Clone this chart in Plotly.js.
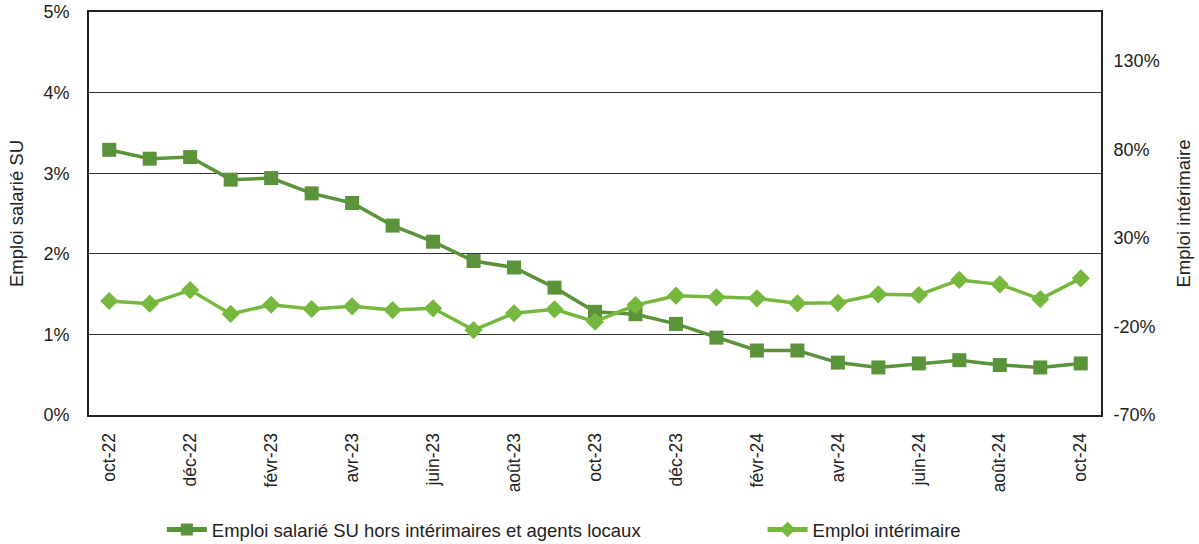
<!DOCTYPE html>
<html><head><meta charset="utf-8">
<script src="https://cdn.plot.ly/plotly-3.0.1.min.js"></script>
<style>html,body{margin:0;padding:0;background:#fff}#c{width:1199px;height:544px}</style>
</head><body><div id="c"></div>
<script>
const months = ["oct-22","nov-22","déc-22","janv-23","févr-23","mars-23","avr-23","mai-23","juin-23","juil-23","août-23","sept-23","oct-23","nov-23","déc-23","janv-24","févr-24","mars-24","avr-24","mai-24","juin-24","juil-24","août-24","sept-24","oct-24"];
const tickLabels = ["oct-22","déc-22","févr-23","avr-23","juin-23","août-23","oct-23","déc-23","févr-24","avr-24","juin-24","août-24","oct-24"];
const emploiSalarie = [3.29,3.18,3.20,2.92,2.94,2.75,2.63,2.35,2.15,1.91,1.83,1.58,1.28,1.25,1.13,0.96,0.80,0.80,0.65,0.59,0.64,0.68,0.62,0.59,0.64];
const emploiInterim = [-5.6,-7.1,0.6,-12.9,-7.7,-10.1,-8.6,-10.7,-9.7,-22.0,-12.5,-10.3,-17.3,-7.9,-2.6,-3.5,-4.1,-6.9,-6.6,-1.8,-2.2,6.3,3.8,-4.5,7.2];
const name1 = "Emploi salarié SU hors intérimaires et agents locaux";
const name2 = "Emploi intérimaire";

const dark = "#5b933b", light = "#76b83e";
const fam = "Liberation Sans, Arial, sans-serif";
const font = {family: fam, size: 18, color: "#222"};
const titleFont = {family: fam, size: 18.5, color: "#222"};
const legFont = {family: fam, size: 18.5, color: "#222"};
const traces = [
  {x: months, y: emploiSalarie, name: name1, type: "scatter", mode: "lines+markers",
   line: {color: dark, width: 3.5}, marker: {symbol: "square", size: 14, color: dark}, yaxis: "y", legend: "legend"},
  {x: months, y: emploiInterim, name: name2, type: "scatter", mode: "lines+markers",
   line: {color: light, width: 3.5}, marker: {symbol: "diamond", size: 14, color: light}, yaxis: "y2", legend: "legend2"}
];
const layout = {
  width: 1199, height: 544,
  margin: {l: 89, r: 98, t: 12, b: 129},
  paper_bgcolor: "#fff", plot_bgcolor: "#fff",
  font: font,
  showlegend: true,
  legend: {orientation: "h", xref: "container", yref: "container", x: 0.135, xanchor: "left", y: 0.026, yanchor: "middle", font: legFont, itemwidth: 40, itemsizing: "constant"},
  legend2: {orientation: "h", xref: "container", yref: "container", x: 0.636, xanchor: "left", y: 0.026, yanchor: "middle", font: legFont, itemwidth: 40, itemsizing: "constant"},
  xaxis: {type: "category", categoryorder: "array", categoryarray: months, automargin: false,
          range: [-0.5, 24.5], tickmode: "array", tickvals: tickLabels, ticktext: tickLabels,
          tickangle: -90, ticks: "", showgrid: false, zeroline: false,
          showline: true, linecolor: "#222", linewidth: 2, mirror: true,
          tickfont: {family: fam, size: 17.5, color: "#222"},
          ticklabelstandoff: 9},
  yaxis: {range: [0, 5], automargin: false,
          tickvals: [0,1,2,3,4,5], ticktext: ["0%","1%","2%","3%","4%","5%"],
          showgrid: true, gridcolor: "#333", gridwidth: 1, zeroline: false,
          showline: true, linecolor: "#222", linewidth: 2, ticks: "",
          ticklabelstandoff: 14,
          title: {text: "Emploi salarié SU", font: titleFont, standoff: 15}},
  yaxis2: {overlaying: "y", side: "right", range: [-70, 157.7], automargin: false,
           tickvals: [-70,-20,30,80,130], ticktext: ["-70%","-20%","30%","80%","130%"],
           showgrid: false, zeroline: false, showline: true, linecolor: "#222", linewidth: 2, ticks: "",
           ticklabelstandoff: 7,
           title: {text: "Emploi intérimaire", font: titleFont, standoff: 18}}
};
Plotly.newPlot("c", traces, layout, {displayModeBar: false, staticPlot: true});
</script></body></html>
